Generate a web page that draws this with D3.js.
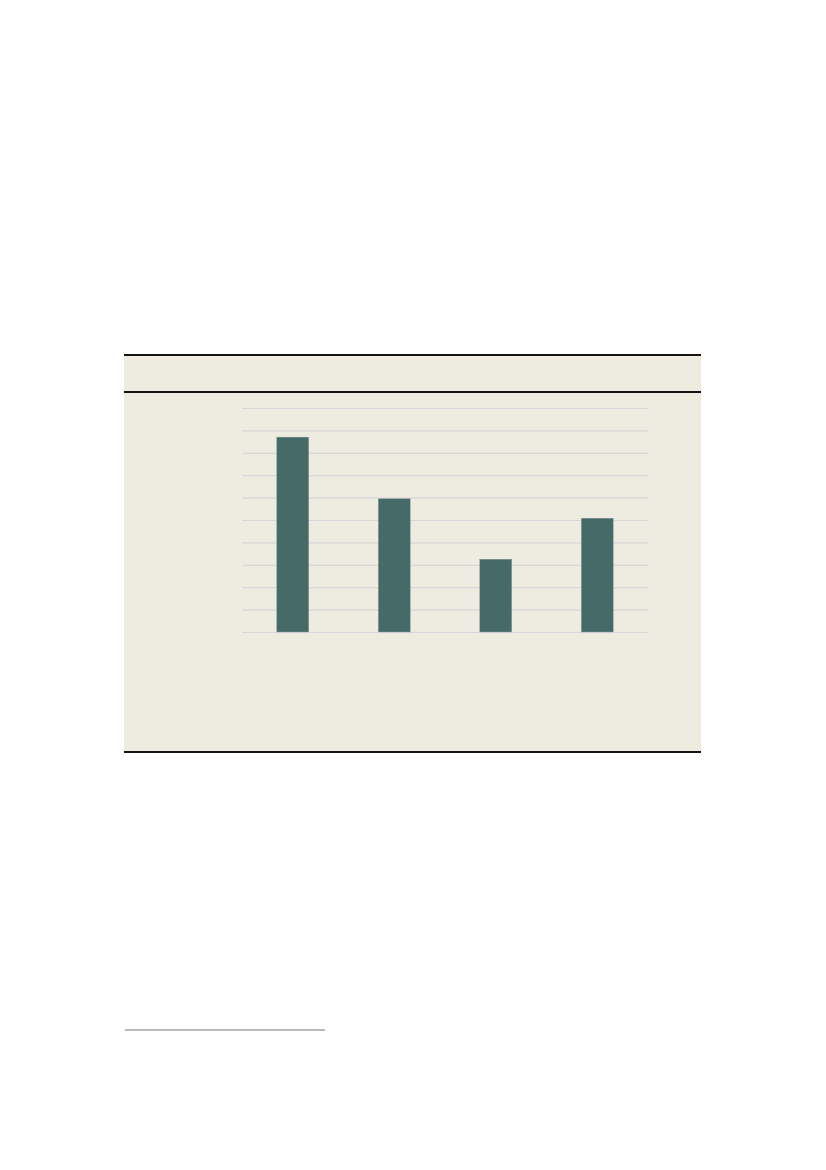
<!DOCTYPE html>
<html lang="en">
<head>
    <meta charset="UTF-8">
    <title>Bar chart</title>
    <script src="https://d3js.org/d3.v7.min.js"></script>
    <style>
        body {
            margin: 0;
            background-color: #ffffff;
        }
        svg {
            display: block;
        }
        .grid line {
            stroke: #d8d6d8;
            stroke-width: 1.2;
        }
        .grid path {
            display: none;
        }
        .bar {
            fill: #466a67;
            stroke: #8fa3a0;
            stroke-width: 0.4;
        }
    </style>
</head>
<body>
    <svg id="chart" width="826" height="1170"></svg>

    <script>
        // Chart data (no labels are printed in the source picture)
        const categories = ["1", "2", "3", "4"];
        const values = [87, 59.5, 32.5, 50.8];
        const yTicks = [0, 10, 20, 30, 40, 50, 60, 70, 80, 90, 100];

        const svg = d3.select("#chart");

        // Panel box
        const panel = { left: 124, right: 701, top: 355, header: 392, bottom: 752 };

        svg.append("rect")
            .attr("x", panel.left)
            .attr("y", panel.top)
            .attr("width", panel.right - panel.left)
            .attr("height", panel.bottom - panel.top)
            .attr("fill", "#eeebe0");

        [panel.top, panel.header, panel.bottom].forEach(y => {
            svg.append("line")
                .attr("x1", panel.left).attr("x2", panel.right)
                .attr("y1", y).attr("y2", y)
                .attr("stroke", "#141414")
                .attr("stroke-width", 2);
        });

        // Plot area
        const plot = { left: 242, right: 648, top: 408, bottom: 632 };

        const x = d3.scaleBand()
            .domain(categories)
            .range([plot.left, plot.right])
            .paddingInner(0.685)
            .paddingOuter(0.3425);

        const y = d3.scaleLinear()
            .domain([0, 100])
            .range([plot.bottom, plot.top]);

        svg.append("g")
            .attr("class", "grid")
            .attr("transform", `translate(${plot.left},0)`)
            .call(d3.axisLeft(y)
                .tickValues(yTicks)
                .tickSize(-(plot.right - plot.left))
                .tickFormat(""));

        svg.selectAll(".bar")
            .data(values)
            .enter()
            .append("rect")
            .attr("class", "bar")
            .attr("x", (d, i) => x(categories[i]))
            .attr("y", d => y(d))
            .attr("width", x.bandwidth())
            .attr("height", d => y(0) - y(d));

        // Footnote separator
        svg.append("line")
            .attr("x1", 125).attr("x2", 325)
            .attr("y1", 1030).attr("y2", 1030)
            .attr("stroke", "#a3a3a3")
            .attr("stroke-width", 1.5);
    </script>
</body>
</html>
